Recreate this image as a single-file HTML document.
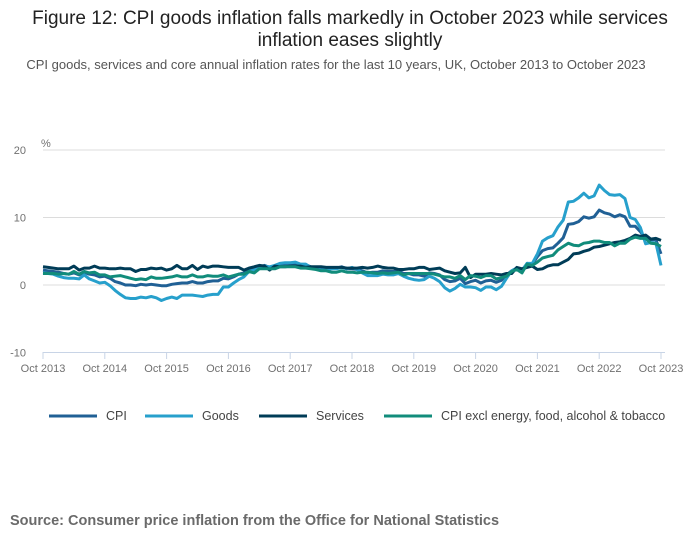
<!DOCTYPE html>
<html><head><meta charset="utf-8"><style>
body{margin:0;background:#fff;font-family:"Liberation Sans",sans-serif;}
#wrap{position:relative;width:700px;height:549px;overflow:hidden}
h1{position:absolute;top:8px;left:0;width:700px;margin:0;text-align:center;font-weight:normal;font-size:19px;line-height:22px;color:#222}
#sub{position:absolute;top:57px;left:0;width:672px;text-align:center;font-size:13px;color:#555}
#src{position:absolute;top:513px;left:10px;font-size:14.5px;font-weight:bold;color:#6a6a6a}
svg text{font-family:"Liberation Sans",sans-serif}
</style></head><body><div id="wrap">
<h1>Figure 12: CPI goods inflation falls markedly in October 2023 while services inflation eases slightly</h1>
<div id="sub">CPI goods, services and core annual inflation rates for the last 10 years, UK, October 2013 to October 2023</div>
<svg id="chart" width="700" height="549" style="position:absolute;top:0;left:0"></svg>
<div id="src">Source: Consumer price inflation from the Office for National Statistics</div>
</div>
<script>
const xTickLabels=["Oct 2013","Oct 2014","Oct 2015","Oct 2016","Oct 2017","Oct 2018","Oct 2019","Oct 2020","Oct 2021","Oct 2022","Oct 2023"];
const yTicks=[20,10,0,-10];
const seriesNames=["CPI","Goods","Services","CPI excl energy, food, alcohol & tobacco"];
const cpi=[2.2,2.1,2.0,1.9,1.7,1.6,1.8,1.5,1.9,1.6,1.5,1.2,1.3,1.0,0.5,0.3,0.0,0.0,-0.1,0.1,0.0,0.1,0.0,-0.1,-0.1,0.1,0.2,0.3,0.3,0.5,0.3,0.3,0.5,0.6,0.6,1.0,0.9,1.2,1.6,1.8,2.3,2.3,2.7,2.9,2.6,2.6,2.9,3.0,3.0,3.1,3.0,3.0,2.7,2.5,2.4,2.4,2.4,2.5,2.7,2.4,2.4,2.3,2.1,1.8,1.9,1.9,2.1,2.0,2.0,2.1,1.7,1.7,1.5,1.5,1.3,1.8,1.7,1.5,0.8,0.5,0.6,1.0,0.2,0.5,0.7,0.3,0.6,0.7,0.4,0.7,1.5,2.1,2.5,2.0,3.2,3.1,4.2,5.1,5.4,5.5,6.2,7.0,9.0,9.1,9.4,10.1,9.9,10.1,11.1,10.7,10.5,10.1,10.4,10.1,8.7,8.7,7.9,6.8,6.7,6.7,4.6];
const goods=[1.8,1.7,1.6,1.3,1.1,1.0,1.0,0.9,1.5,0.9,0.6,0.3,0.4,-0.1,-0.8,-1.4,-1.9,-2.0,-2.0,-1.8,-1.9,-1.7,-1.9,-2.3,-2.0,-1.8,-2.0,-1.5,-1.5,-1.5,-1.6,-1.7,-1.5,-1.4,-1.4,-0.3,-0.3,0.3,0.8,1.2,2.0,2.2,2.6,2.8,2.7,2.9,3.2,3.3,3.3,3.4,3.1,3.1,2.6,2.5,2.2,2.3,2.4,2.4,2.6,2.4,2.6,2.3,1.8,1.4,1.4,1.4,1.6,1.5,1.5,1.7,1.3,1.0,0.8,0.7,0.8,1.3,1.0,0.5,-0.4,-0.9,-0.5,0.1,-0.3,-0.3,-0.4,-0.8,-0.3,-0.3,-0.7,-0.2,1.0,2.1,2.5,2.2,3.2,3.2,4.6,6.5,7.0,7.3,8.6,9.6,12.3,12.4,12.9,13.6,12.9,13.2,14.8,14.0,13.4,13.3,13.4,12.8,10.0,9.7,8.5,6.1,6.3,6.2,2.9];
const services=[2.7,2.6,2.5,2.4,2.4,2.4,2.8,2.2,2.5,2.5,2.8,2.5,2.5,2.4,2.4,2.5,2.4,2.4,2.0,2.3,2.3,2.5,2.4,2.5,2.2,2.4,2.9,2.4,2.4,2.9,2.3,2.8,2.6,2.8,2.8,2.7,2.6,2.6,2.6,2.2,2.5,2.7,2.9,2.8,2.2,2.8,2.7,2.7,2.8,2.8,2.8,2.6,2.7,2.7,2.7,2.6,2.6,2.6,2.6,2.5,2.5,2.5,2.6,2.5,2.6,2.8,2.6,2.5,2.5,2.3,2.3,2.4,2.4,2.6,2.6,2.3,2.4,2.5,2.1,1.9,1.7,1.8,2.6,1.1,1.6,1.6,1.6,1.7,1.6,1.5,1.7,1.7,2.6,2.4,2.6,2.8,2.3,2.4,2.8,3.0,3.0,3.4,3.8,4.6,4.7,5.0,5.2,5.6,5.7,5.9,6.1,6.3,6.4,6.6,6.9,7.4,7.2,7.4,6.8,6.9,6.6];
const core=[1.7,1.7,1.7,1.6,1.7,1.6,2.0,1.6,2.0,1.8,1.9,1.5,1.5,1.2,1.3,1.4,1.2,1.0,0.8,0.9,0.8,1.2,1.0,1.0,1.1,1.2,1.4,1.2,1.2,1.5,1.2,1.2,1.4,1.3,1.3,1.5,1.2,1.4,1.6,1.6,2.0,1.8,2.4,2.4,2.4,2.4,2.7,2.7,2.7,2.7,2.5,2.5,2.4,2.3,2.1,2.1,1.9,1.9,2.1,1.9,1.9,1.8,1.9,1.9,1.8,1.7,1.8,1.7,1.8,1.9,1.5,1.7,1.7,1.7,1.7,1.7,1.6,1.4,1.2,1.2,1.0,1.4,0.8,1.4,1.3,1.1,1.4,1.4,0.9,1.1,1.3,2.0,2.3,1.8,3.1,2.9,3.4,4.0,4.2,4.4,5.2,5.7,6.2,5.9,5.8,6.2,6.3,6.5,6.5,6.3,6.3,5.8,6.2,6.2,6.8,7.1,6.9,6.9,6.2,6.1,5.7];
const colors=["#206095","#27a0cc","#003c57","#118c7b"];
const NS="http://www.w3.org/2000/svg",svg=document.getElementById('chart');
const x=i=>43+i*(618/120), y=v=>285-v*6.75;
function mk(t,a){const e=document.createElementNS(NS,t);for(const k in a)e.setAttribute(k,a[k]);svg.appendChild(e);return e;}
yTicks.forEach(v=>{
 const l=mk('line',{x1:43,x2:665,y1:y(v),y2:y(v),stroke:v===-10?'#c8d4e6':'#dcdcdc','stroke-width':1});
 
 
 const t=mk('text',{x:26,y:y(v)+4,'text-anchor':'end','font-size':11,fill:'#707070'});t.textContent=v;
 
 
});
const pc=mk('text',{x:41,y:147,'font-size':11,fill:'#707070'});pc.textContent='%';


xTickLabels.forEach((s,k)=>{
 const xx=x(k*12);
 const tk=mk('line',{x1:xx,x2:xx,y1:352,y2:359,stroke:'#c8d4e6'});
 
 
 const t=mk('text',{x:xx,y:372,'text-anchor':'middle','font-size':11,fill:'#707070'});t.textContent=s;
 
 
});
[cpi,goods,services,core].forEach((d,s)=>{
 const p=mk('path',{d:d.map((v,i)=>(i?'L':'M')+x(i).toFixed(1)+','+y(v).toFixed(1)).join(''),fill:'none',stroke:colors[s],'stroke-width':3,'stroke-linejoin':'round'});
 
 
});
const lx=[49,145,259,384];
seriesNames.forEach((n,s)=>{
 const l=mk('line',{x1:lx[s],x2:lx[s]+48,y1:416,y2:416,stroke:colors[s],'stroke-width':3});
 
 
 const t=mk('text',{x:lx[s]+57,y:420,'font-size':12.5,fill:'#444'});t.textContent=n;
 
 
});
</script></body></html>
